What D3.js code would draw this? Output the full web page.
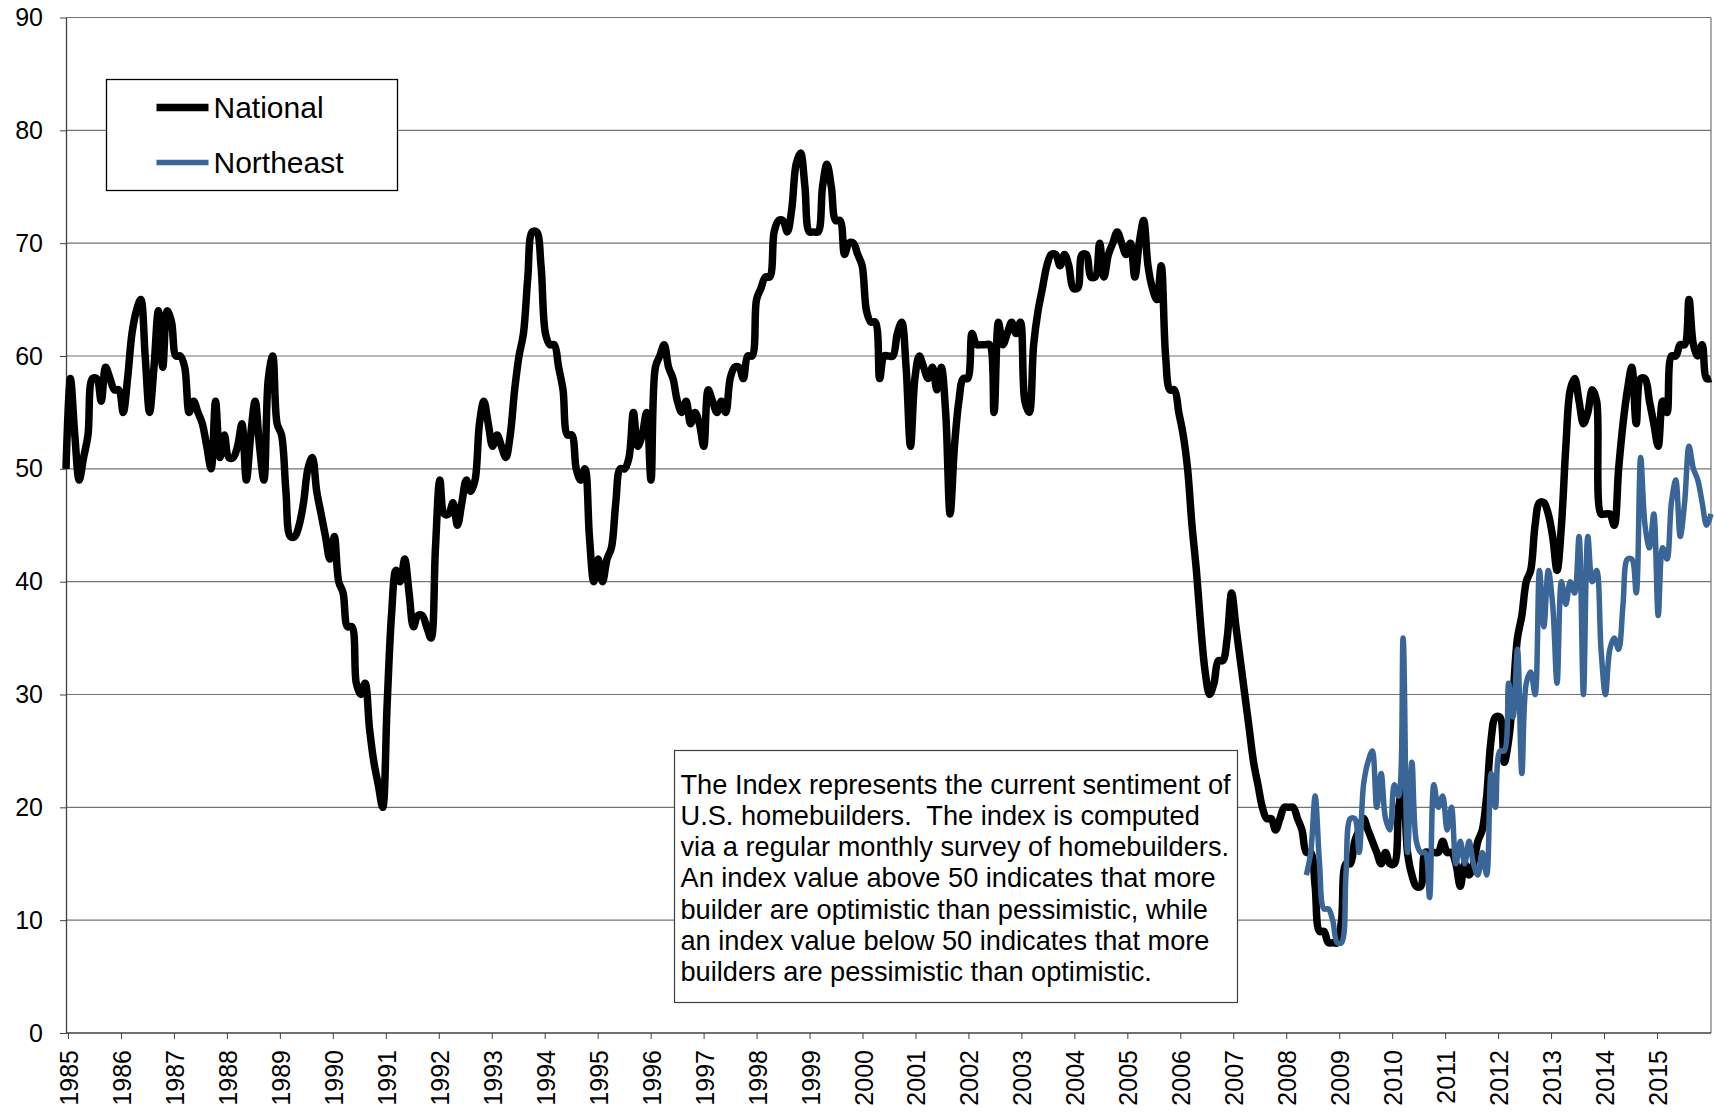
<!DOCTYPE html>
<html>
<head>
<meta charset="utf-8">
<script src="https://cdn.jsdelivr.net/npm/d3@7/dist/d3.min.js"></script>
<style>
  body { margin: 0; background: #fff; }
  svg { font-family: "Liberation Sans", Arial, sans-serif; }
</style>
</head>
<body>
<div id="chart"></div>
<script>
// monthly index, Jan 1985 .. Mar 2016
var startYear = 1985;
var national = [
  50, 58, 53, 49, 51, 53, 58, 58, 56, 59, 58, 57,   // 1985
  57, 55, 58, 62, 64, 65, 60, 55, 59, 64, 59, 64,   // 1986
  63, 60, 60, 59, 55, 56, 55, 54, 52, 50, 56, 51,   // 1987
  53, 51, 51, 52, 54, 49, 53, 56, 52, 49, 58, 60,   // 1988
  54, 53, 48, 44, 44, 45, 47, 50, 51, 48, 46, 44,   // 1989
  42, 44, 40, 39, 36, 36, 31, 30, 31, 27, 24, 22,   // 1990
  20, 29, 37, 41, 40, 42, 39, 36, 37, 37, 36, 35,   // 1991
  43, 49, 46, 46, 47, 45, 47, 49, 48, 49, 54, 56,   // 1992
  54, 52, 53, 52, 51, 53, 57, 60, 62, 67, 71, 71,   // 1993
  68, 62, 61, 61, 59, 57, 53, 53, 50, 49, 50, 44,   // 1994
  40, 42, 40, 42, 43, 47, 50, 50, 51, 55, 52, 53,   // 1995
  55, 49, 59, 60, 61, 59, 58, 56, 55, 56, 54, 55,   // 1996
  54, 52, 57, 56, 55, 56, 55, 58, 59, 59, 58, 60,   // 1997
  60, 65, 66, 67, 67, 71, 72, 72, 71, 73, 77, 78,   // 1998
  75, 71, 71, 71, 75, 77, 75, 72, 72, 69, 70, 70,   // 1999
  69, 68, 64, 63, 63, 58, 60, 60, 60, 62, 63, 59,   // 2000
  52, 58, 60, 59, 58, 59, 57, 59, 55, 46, 52, 56,   // 2001
  58, 58, 62, 61, 61, 61, 61, 55, 63, 61, 62, 63,   // 2002
  62, 63, 56, 55, 61, 64, 66, 68, 69, 69, 68, 69,   // 2003
  68, 66, 66, 69, 69, 67, 67, 70, 67, 69, 70, 71,   // 2004
  70, 69, 70, 67, 70, 72, 68, 66, 65, 68, 60, 57,   // 2005
  57, 55, 53, 50, 45, 41, 36, 32, 30, 31, 33, 33,   // 2006
  35, 39, 36, 33, 30, 27, 24, 22, 20, 19, 19, 18,   // 2007
  19, 20, 20, 20, 19, 18, 16, 16, 13, 9, 9, 8,      // 2008
  8, 8, 10, 15, 15, 17, 18, 19, 18, 17, 16, 15,     // 2009
  16, 15, 15, 20, 22, 16, 14, 13, 13, 16, 16, 16,   // 2010
  16, 17, 16, 16, 15, 13, 15, 14, 15, 17, 18, 21,   // 2011
  26, 28, 28, 24, 26, 30, 35, 37, 40, 41, 45, 47,   // 2012
  47, 46, 44, 41, 45, 52, 57, 58, 56, 54, 55, 57,   // 2013
  56, 46, 46, 46, 45, 50, 54, 57, 59, 54, 58, 58,   // 2014
  56, 54, 52, 56, 55, 60, 60, 61, 61, 65, 61, 60,   // 2015
  61, 58, 58                                        // 2016
];

// Northeast starts Jul 2008 (month index 282)
var northeastStart = 282;
var northeast = [
  14, 16, 21, 15, 11, 11,                           // 2008 Jul-Dec
  10, 8, 8, 14, 19, 19, 16, 22, 24, 25, 20, 23,     // 2009
  19, 18, 22, 21, 35, 16, 24, 17, 16, 16, 12, 22,   // 2010
  20, 21, 18, 20, 15, 17, 15, 17, 15, 14, 16, 14,   // 2011
  23, 20, 25, 25, 31, 28, 34, 23, 31, 32, 30, 41,   // 2012
  36, 41, 38, 31, 40, 38, 40, 39, 44, 30, 44, 40,   // 2013
  41, 34, 30, 34, 35, 34, 38, 42, 42, 39, 51, 45,   // 2014
  43, 46, 37, 43, 42, 47, 49, 44, 47, 52, 50, 49,   // 2015
  47, 45, 46                                        // 2016
];

var seriesNames = ["National", "Northeast"];
var seriesColors = ["#000000", "#3A6597"];
var seriesWidths = [7.5, 5.5];
var yTicks = [0, 10, 20, 30, 40, 50, 60, 70, 80, 90];
var yearLabels = d3.range(1985, 2016);
var noteLines = [
  "The Index represents the current sentiment of",
  "U.S. homebuilders.  The index is computed",
  "via a regular monthly survey of homebuilders.",
  "An index value above 50 indicates that more",
  "builder are optimistic than pessimistic, while",
  "an index value below 50 indicates that more",
  "builders are pessimistic than optimistic."
];

var width = 1714, height = 1113;
var plotL = 66, plotR = 1711, plotT = 17.5, plotB = 1033;

var x = d3.scaleLinear().domain([0, national.length - 1]).range([plotL, plotR]);
var y = d3.scaleLinear().domain([0, 90]).range([plotB, plotT]);
// category labels sit a little wider apart than the monthly points
var xYear = d3.scaleLinear().domain([1985, 2015]).range([plotL + 2, 1657]);

var svg = d3.select("#chart").append("svg")
  .attr("width", width)
  .attr("height", height);

// gridlines
svg.append("g")
  .selectAll("line")
  .data(yTicks.slice(1))
  .enter().append("line")
  .attr("x1", plotL).attr("x2", plotR)
  .attr("y1", function(d) { return y(d); })
  .attr("y2", function(d) { return y(d); })
  .attr("stroke", "#747474")
  .attr("stroke-width", 1.2);

// right border
svg.append("line")
  .attr("x1", plotR).attr("x2", plotR)
  .attr("y1", plotT).attr("y2", plotB)
  .attr("stroke", "#747474").attr("stroke-width", 1.2);

// y axis
var yAxis = svg.append("g")
  .attr("transform", "translate(" + plotL + ",0)")
  .call(d3.axisLeft(y).tickValues(yTicks).tickSizeInner(6).tickSizeOuter(0).tickPadding(17));
yAxis.selectAll("text").style("font-size", "25px").attr("fill", "#000");
yAxis.selectAll("line").attr("stroke", "#404040");
yAxis.select(".domain").attr("stroke", "#404040").attr("stroke-width", 1.3);

// x axis line
svg.append("line")
  .attr("x1", plotL).attr("x2", plotR)
  .attr("y1", plotB).attr("y2", plotB)
  .attr("stroke", "#404040").attr("stroke-width", 1.3);

// year labels
var xAxis = svg.append("g")
  .attr("transform", "translate(0," + plotB + ")")
  .call(d3.axisBottom(xYear)
    .tickValues(yearLabels)
    .tickFormat(function(d) { return String(d); })
    .tickSizeInner(6).tickSizeOuter(0));
xAxis.select(".domain").remove();
xAxis.selectAll("line").attr("stroke", "#404040");
xAxis.selectAll("text")
  .style("font-size", "25px")
  .attr("fill", "#000")
  .attr("text-anchor", "end")
  .attr("transform", "rotate(-90)")
  .attr("x", -17)
  .attr("y", 0)
  .attr("dy", "0.38em");

// series
var line = d3.line()
  .x(function(d) { return x(d.i); })
  .y(function(d) { return y(d.v); })
  .curve(d3.curveCatmullRom.alpha(0.5));

var natPts = national.map(function(v, i) { return {i: i, v: v}; });
var nePts = northeast.map(function(v, i) { return {i: i + northeastStart, v: v}; });

svg.append("path")
  .datum(natPts)
  .attr("d", line)
  .attr("fill", "none")
  .attr("stroke", seriesColors[0])
  .attr("stroke-width", seriesWidths[0])
  .attr("stroke-linejoin", "round");

svg.append("path")
  .datum(nePts)
  .attr("d", line)
  .attr("fill", "none")
  .attr("stroke", seriesColors[1])
  .attr("stroke-width", seriesWidths[1])
  .attr("stroke-linejoin", "round");

// legend
var legend = svg.append("g").attr("transform", "translate(106.5,79.5)");
legend.append("rect")
  .attr("width", 291).attr("height", 111)
  .attr("fill", "#fff").attr("stroke", "#000").attr("stroke-width", 1.3);
var items = legend.selectAll(".item")
  .data(seriesNames)
  .enter().append("g")
  .attr("class", "item")
  .attr("transform", function(d, i) { return "translate(0," + (28 + i * 55) + ")"; });
items.append("line")
  .attr("x1", 50).attr("x2", 102)
  .attr("stroke", function(d, i) { return seriesColors[i]; })
  .attr("stroke-width", function(d, i) { return seriesWidths[i]; });
items.append("text")
  .attr("x", 107)
  .attr("dy", "0.36em")
  .style("font-size", "30px")
  .text(function(d) { return d; });

// note box
var note = svg.append("g").attr("transform", "translate(674.5,750.5)");
note.append("rect")
  .attr("width", 563).attr("height", 252)
  .attr("fill", "#fff").attr("stroke", "#404040").attr("stroke-width", 1.2);
note.append("text")
  .style("font-size", "27.2px")
  .attr("xml:space", "preserve")
  .style("white-space", "pre")
  .selectAll("tspan")
  .data(noteLines)
  .enter().append("tspan")
  .attr("x", 6)
  .attr("y", function(d, i) { return 43 + i * 31.3; })
  .text(function(d) { return d; });
</script>
</body>
</html>
